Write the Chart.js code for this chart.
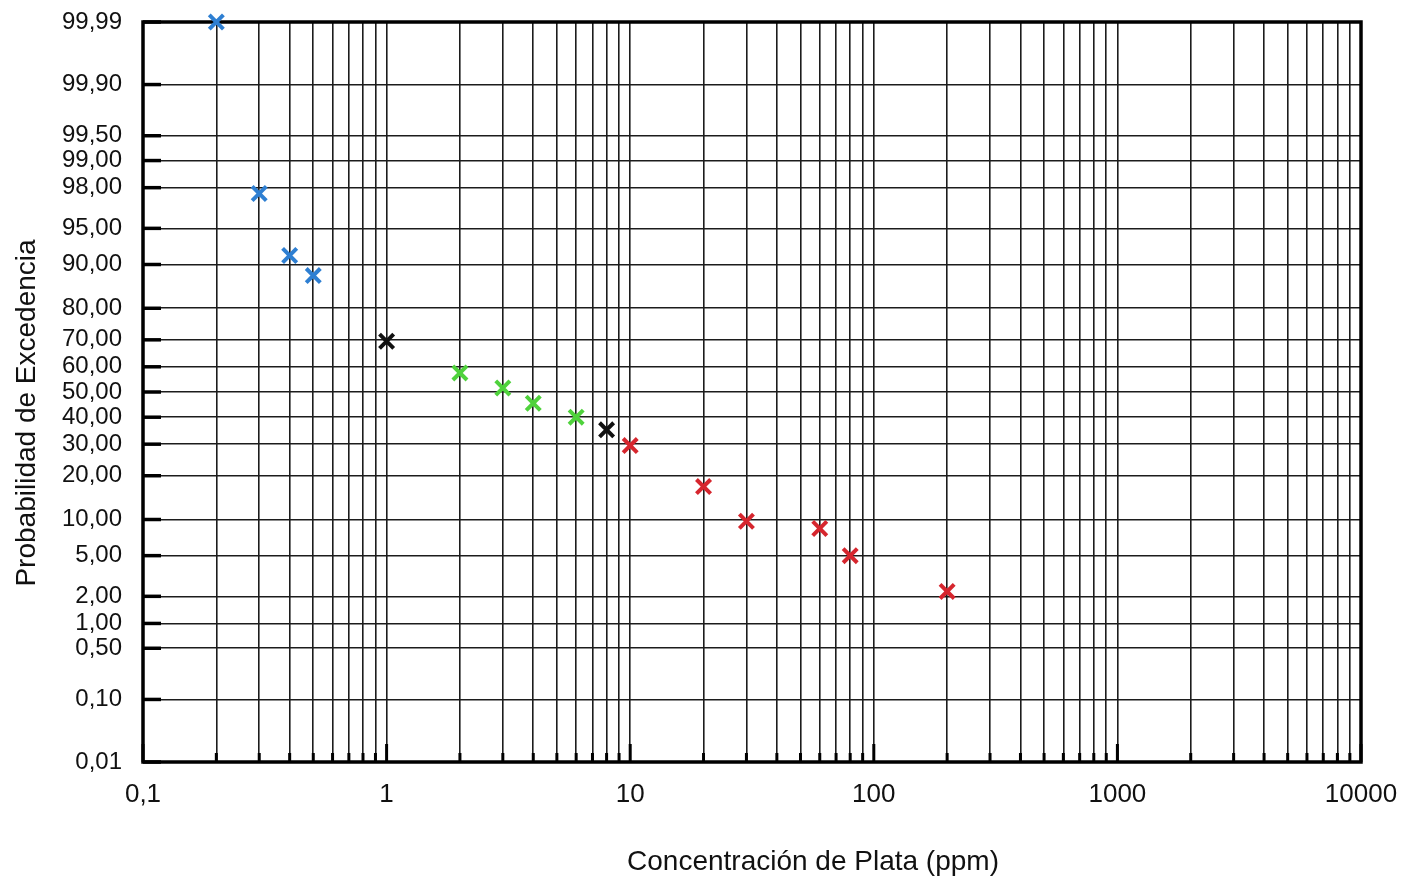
<!DOCTYPE html>
<html>
<head>
<meta charset="utf-8">
<script src="https://cdn.jsdelivr.net/npm/chart.js@4.4.0/dist/chart.umd.min.js"></script>
<style>
  body { margin: 0; background: #fff; }
  canvas { display: block; }
</style>
</head>
<body>
<canvas id="myChart" width="1405" height="883"></canvas>
<script>
// datos (x en ppm, y en % de excedencia)
var blueX = [0.2, 0.3, 0.4, 0.5];
var blueP = [99.99, 97.7, 91.5, 87.9];
var blackX = [1, 8];
var blackP = [69.5, 35.2];
var greenX = [2, 3, 4, 6];
var greenP = [57.6, 51.6, 45.5, 40.0];
var redX = [10, 20, 30, 60, 80, 200];
var redP = [29.5, 17.1, 9.7, 8.5, 5.0, 2.25];

// ticks
var probTicks = [0.01, 0.1, 0.5, 1, 2, 5, 10, 20, 30, 40, 50, 60, 70, 80, 90, 95, 98, 99, 99.5, 99.9, 99.99];
var xTicks = [0.1, 0.2, 0.3, 0.4, 0.5, 0.6, 0.7, 0.8, 0.9,
              1, 2, 3, 4, 5, 6, 7, 8, 9,
              10, 20, 30, 40, 50, 60, 70, 80, 90,
              100, 200, 300, 400, 500, 600, 700, 800, 900,
              1000, 2000, 3000, 4000, 5000, 6000, 7000, 8000, 9000, 10000];
var xDecades = [0.1, 1, 10, 100, 1000, 10000];
var xDecadeLabels = ['0,1', '1', '10', '100', '1000', '10000'];
var xTitle = 'Concentración de Plata (ppm)';
var yTitle = 'Probabilidad de Excedencia';

// inversa de la normal (Acklam)
function probit(p) {
    var a = [-3.969683028665376e+01, 2.209460984245205e+02, -2.759285104469687e+02, 1.383577518672690e+02, -3.066479806614716e+01, 2.506628277459239e+00];
    var b = [-5.447609879822406e+01, 1.615858368580409e+02, -1.556989798598866e+02, 6.680131188771972e+01, -1.328068155288572e+01];
    var c = [-7.784894002430293e-03, -3.223964580411365e-01, -2.400758277161838e+00, -2.549732539343734e+00, 4.374664141464968e+00, 2.938163982698783e+00];
    var d = [7.784695709041462e-03, 3.224671290700398e-01, 2.445134137142996e+00, 3.754408661907416e+00];
    var plow = 0.02425, q, r;
    if (p < plow) {
        q = Math.sqrt(-2 * Math.log(p));
        return (((((c[0]*q+c[1])*q+c[2])*q+c[3])*q+c[4])*q+c[5]) / ((((d[0]*q+d[1])*q+d[2])*q+d[3])*q+1);
    }
    if (p <= 1 - plow) {
        q = p - 0.5; r = q * q;
        return (((((a[0]*r+a[1])*r+a[2])*r+a[3])*r+a[4])*r+a[5])*q / (((((b[0]*r+b[1])*r+b[2])*r+b[3])*r+b[4])*r+1);
    }
    q = Math.sqrt(-2 * Math.log(1 - p));
    return -(((((c[0]*q+c[1])*q+c[2])*q+c[3])*q+c[4])*q+c[5]) / ((((d[0]*q+d[1])*q+d[2])*q+d[3])*q+1);
}
function normCdf(z) {
    var t = 1 / (1 + 0.2316419 * Math.abs(z));
    var y = 0.3989423 * Math.exp(-z * z / 2) * t * (0.3193815 + t * (-0.3565638 + t * (1.781478 + t * (-1.821256 + t * 1.330274))));
    return z > 0 ? 1 - y : y;
}

// escala de probabilidad normal
class ProbitScale extends Chart.Scale {
    determineDataLimits() {
        this.min = this.options.min;
        this.max = this.options.max;
    }
    buildTicks() {
        return probTicks.map(function (v) { return {value: v}; });
    }
    getLabelForValue(v) {
        return v.toFixed(2).replace('.', ',');
    }
    getPixelForValue(v) {
        var z0 = probit(this.min / 100), z1 = probit(this.max / 100);
        return this.getPixelForDecimal((probit(v / 100) - z0) / (z1 - z0));
    }
    getValueForPixel(px) {
        var z0 = probit(this.min / 100), z1 = probit(this.max / 100);
        return 100 * normCdf(z0 + this.getDecimalForPixel(px) * (z1 - z0));
    }
}
ProbitScale.id = 'probit';
ProbitScale.defaults = {};
Chart.register(ProbitScale);

function pts(xs, ps) {
    var out = [];
    for (var i = 0; i < xs.length; i++) out.push({x: xs[i], y: ps[i]});
    return out;
}

// marco grueso y marcas hacia dentro
var frame = {
    id: 'frame',
    beforeDatasetsDraw: function (chart) {
        var ctx = chart.ctx, a = chart.chartArea;
        var xs = chart.scales.x, ys = chart.scales.y;
        ctx.save();
        ctx.strokeStyle = '#000';
        ctx.lineWidth = 3.5;
        ys.ticks.forEach(function (t, i) {
            var y = ys.getPixelForTick(i);
            ctx.beginPath(); ctx.moveTo(a.left, y); ctx.lineTo(a.left + 18, y); ctx.stroke();
        });
        ctx.lineWidth = 3;
        xs.ticks.forEach(function (t, i) {
            var x = xs.getPixelForTick(i);
            var len = xDecades.indexOf(t.value) >= 0 ? 18 : 9;
            ctx.beginPath(); ctx.moveTo(x, a.bottom); ctx.lineTo(x, a.bottom - len); ctx.stroke();
        });
        ctx.lineWidth = 3.5;
        ctx.strokeRect(a.left, a.top, a.right - a.left, a.bottom - a.top);
        ctx.restore();
    },
    afterDraw: function (chart) {
        // titulos de ejes (desplazados como en el original)
        var ctx = chart.ctx, a = chart.chartArea;
        ctx.save();
        ctx.fillStyle = '#111';
        ctx.font = '28px "Liberation Sans", Arial';
        ctx.textAlign = 'center';
        ctx.textBaseline = 'middle';
        ctx.fillText(xTitle, (a.left + a.right) / 2 + 61, 862);
        ctx.translate(27, (a.top + a.bottom) / 2 + 21);
        ctx.rotate(-Math.PI / 2);
        ctx.fillText(yTitle, 0, 0);
        ctx.restore();
    }
};

var ctx = document.getElementById('myChart');
var markers = {pointStyle: 'crossRot', pointRadius: 10, pointHoverRadius: 10, pointBorderWidth: 4, showLine: false, clip: false};

var myChart = new Chart(ctx, {
    type: 'scatter',
    data: {
        datasets: [
            Object.assign({label: 'azul', data: pts(blueX, blueP), borderColor: '#2e7fd2', backgroundColor: '#2e7fd2'}, markers),
            Object.assign({label: 'negro', data: pts(blackX, blackP), borderColor: '#111111', backgroundColor: '#111111'}, markers),
            Object.assign({label: 'verde', data: pts(greenX, greenP), borderColor: '#4fd23c', backgroundColor: '#4fd23c'}, markers),
            Object.assign({label: 'rojo', data: pts(redX, redP), borderColor: '#d6262e', backgroundColor: '#d6262e'}, markers)
        ]
    },
    options: {
        responsive: false,
        animation: false,
        layout: {padding: {top: 22, right: 44, left: 0, bottom: 0}},
        plugins: {legend: {display: false}, tooltip: {enabled: false}},
        scales: {
            x: {
                type: 'logarithmic',
                min: 0.1,
                max: 10000,
                afterBuildTicks: function (s) {
                    s.ticks = xTicks.map(function (v) { return {value: v, major: xDecades.indexOf(v) >= 0}; });
                },
                afterFit: function (s) {
                    s.height = 121;
                    s.paddingLeft = 0; s.paddingRight = 0;
                },
                grid: {color: '#1c1c1c', lineWidth: 1.6, drawTicks: false},
                border: {display: false},
                ticks: {
                    autoSkip: false,
                    maxRotation: 0,
                    padding: 17,
                    color: '#111',
                    font: {family: 'Liberation Sans, Arial', size: 26},
                    callback: function (v) {
                        var i = xDecades.indexOf(v);
                        return i >= 0 ? xDecadeLabels[i] : '';
                    }
                },
                title: {display: false}
            },
            y: {
                type: 'probit',
                position: 'left',
                min: 0.01,
                max: 99.99,
                afterFit: function (s) {
                    s.width = 143;
                    s.paddingTop = 0; s.paddingBottom = 0;
                },
                grid: {color: '#1c1c1c', lineWidth: 1.6, drawTicks: false},
                border: {display: false},
                ticks: {
                    autoSkip: false,
                    padding: 21,
                    color: '#111',
                    font: {family: 'Liberation Sans, Arial', size: 24},
                    callback: function (v) { return v.toFixed(2).replace('.', ','); }
                },
                title: {display: false}
            }
        }
    },
    plugins: [frame]
});
</script>
</body>
</html>
